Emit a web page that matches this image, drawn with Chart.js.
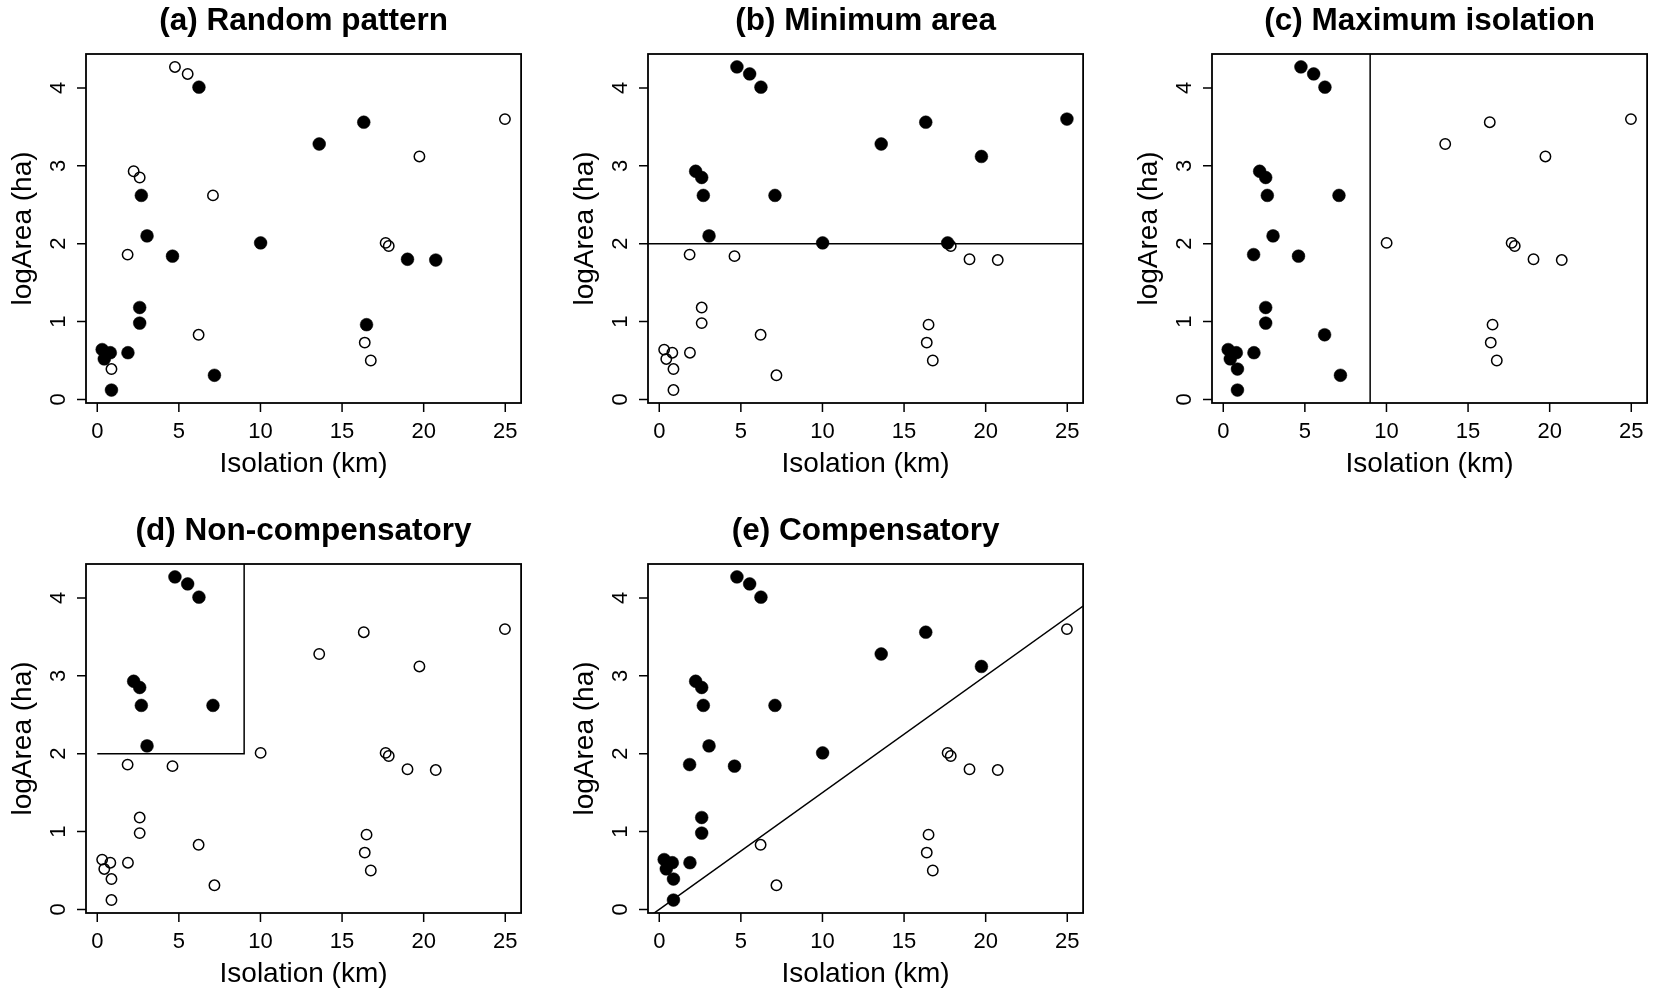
<!DOCTYPE html>
<html>
<head>
<meta charset="utf-8">
<script src="https://cdn.jsdelivr.net/npm/chart.js@4/dist/chart.umd.min.js"></script>
<style>
  html, body { margin: 0; padding: 0; background: #fff; overflow: hidden; }
  #wrap { position: relative; width: 1654px; height: 994px; }
  canvas { position: absolute; }
</style>
</head>
<body>
<div id="wrap">
  <canvas id="pa" width="528" height="488" style="left:0px;top:0px"></canvas>
  <canvas id="pb" width="528" height="488" style="left:562px;top:0px"></canvas>
  <canvas id="pc" width="528" height="488" style="left:1126px;top:0px"></canvas>
  <canvas id="pd" width="528" height="488" style="left:0px;top:510px"></canvas>
  <canvas id="pe" width="528" height="488" style="left:562px;top:510px"></canvas>
</div>
<script>
// patches: isolation (km) and log10 area (ha)
const isolation = [4.76, 5.54, 6.23, 16.33, 24.98, 13.60, 19.74, 2.23, 2.60, 2.70, 7.09, 3.05, 10.01, 17.67, 17.86, 1.86,
                   4.61, 19.01, 20.74, 2.60, 2.60, 6.21, 16.50, 16.39, 16.76, 0.30, 0.43, 0.80, 1.88, 0.87, 0.87, 7.18];
const logArea   = [4.27, 4.18, 4.01, 3.56, 3.60, 3.28, 3.12, 2.93, 2.85, 2.62, 2.62, 2.10, 2.01, 2.01, 1.97, 1.86,
                   1.84, 1.80, 1.79, 1.18, 0.98, 0.83, 0.96, 0.73, 0.50, 0.64, 0.52, 0.60, 0.60, 0.39, 0.12, 0.31];

// 1 = patch selected (filled symbol), 0 = not selected (open symbol)
const selRandom  = [0,0,1,1,0,1,0,0,0,1,0,1,1,0,0,0, 1,1,1,1,1,0,1,0,0,1,1,1,1,0,1,1];
const selMinArea = [1,1,1,1,1,1,1,1,1,1,1,1,1,1,0,0, 0,0,0,0,0,0,0,0,0,0,0,0,0,0,0,0];
const selMaxIso  = [1,1,1,0,0,0,0,1,1,1,1,1,0,0,0,1, 1,0,0,1,1,1,0,0,0,1,1,1,1,1,1,1];
const selNonComp = [1,1,1,0,0,0,0,1,1,1,1,1,0,0,0,0, 0,0,0,0,0,0,0,0,0,0,0,0,0,0,0,0];
const selComp    = [1,1,1,1,0,1,1,1,1,1,1,1,1,0,0,1, 1,0,0,1,1,0,0,0,0,1,1,1,1,1,1,0];

// threshold rules
const minArea = 2;          // logArea cut-off
const maxIsolation = 9;     // km cut-off
const compIntercept = 0;    // compensatory line: logArea = a + b * isolation
const compSlope = 0.15;

const xTicks = [0, 5, 10, 15, 20, 25];
const yTicks = [0, 1, 2, 3, 4];
const X_MIN = -0.69, X_MAX = 25.97;
const Y_MIN = -0.046, Y_MAX = 4.436;

const FONT = "'Liberation Sans', Arial, sans-serif";

const frame = {
  id: "frame",
  afterDraw(chart, args, opts) {
    const ctx = chart.ctx;
    const a = chart.chartArea;
    const xs = chart.scales.x, ys = chart.scales.y;
    ctx.save();
    ctx.strokeStyle = "#000";
    ctx.fillStyle = "#000";

    // box
    ctx.lineWidth = 1.8;
    ctx.strokeRect(a.left, a.top, a.right - a.left, a.bottom - a.top);

    // tick marks
    ctx.lineWidth = 1.5;
    ctx.beginPath();
    xTicks.forEach(v => {
      const px = xs.getPixelForValue(v);
      ctx.moveTo(px, a.bottom);
      ctx.lineTo(px, a.bottom + 9);
    });
    yTicks.forEach(v => {
      const py = ys.getPixelForValue(v);
      ctx.moveTo(a.left, py);
      ctx.lineTo(a.left - 9, py);
    });
    ctx.stroke();

    // tick labels
    ctx.font = "22px " + FONT;
    ctx.textAlign = "center";
    ctx.textBaseline = "middle";
    xTicks.forEach(v => ctx.fillText(String(v), xs.getPixelForValue(v), a.bottom + 29));
    yTicks.forEach(v => {
      ctx.save();
      ctx.translate(a.left - 27, ys.getPixelForValue(v));
      ctx.rotate(-Math.PI / 2);
      ctx.fillText(String(v), 0, 0);
      ctx.restore();
    });

    // axis titles
    const cx = (a.left + a.right) / 2;
    ctx.font = "28px " + FONT;
    ctx.fillText("Isolation (km)", cx, a.bottom + 61);
    ctx.save();
    ctx.translate(a.left - 63, (a.top + a.bottom) / 2);
    ctx.rotate(-Math.PI / 2);
    ctx.fillText("logArea (ha)", 0, 0);
    ctx.restore();

    // panel title
    ctx.font = "bold 31.5px " + FONT;
    ctx.fillText(opts.text, cx, a.top - 33);
    ctx.restore();
  }
};

function makePanel(id, title, sel, guide) {
  const filled = [], open = [];
  isolation.forEach((x, i) => {
    (sel[i] ? filled : open).push({ x: x, y: logArea[i] });
  });
  const datasets = [
    {
      type: "scatter",
      data: open,
      pointStyle: "circle",
      pointRadius: 5.2,
      pointBorderWidth: 1.5,
      pointBorderColor: "#000",
      pointBackgroundColor: "rgba(0,0,0,0)"
    },
    {
      type: "scatter",
      data: filled,
      pointStyle: "circle",
      pointRadius: 6.4,
      pointBorderWidth: 0.5,
      pointBorderColor: "#000",
      pointBackgroundColor: "#000"
    }
  ];
  if (guide) {
    datasets.push({
      type: "line",
      data: guide,
      borderColor: "#000",
      borderWidth: 1.5,
      pointRadius: 0,
      fill: false,
      tension: 0
    });
  }
  new Chart(document.getElementById(id), {
    type: "scatter",
    data: { datasets: datasets },
    options: {
      responsive: false,
      animation: false,
      events: [],
      layout: { padding: { left: 86, top: 54, right: 3, bottom: 85 } },
      scales: {
        x: { type: "linear", min: X_MIN, max: X_MAX, display: false },
        y: { type: "linear", min: Y_MIN, max: Y_MAX, display: false }
      },
      plugins: {
        legend: { display: false },
        title: { display: false },
        tooltip: { enabled: false },
        frame: { text: title }
      }
    },
    plugins: [frame]
  });
}

makePanel("pa", "(a) Random pattern", selRandom, null);
makePanel("pb", "(b) Minimum area", selMinArea,
  [{ x: X_MIN, y: minArea }, { x: X_MAX, y: minArea }]);
makePanel("pc", "(c) Maximum isolation", selMaxIso,
  [{ x: maxIsolation, y: Y_MIN }, { x: maxIsolation, y: Y_MAX }]);
makePanel("pd", "(d) Non-compensatory", selNonComp,
  [{ x: 0, y: minArea }, { x: maxIsolation, y: minArea }, { x: maxIsolation, y: Y_MAX }]);
makePanel("pe", "(e) Compensatory", selComp,
  [{ x: X_MIN, y: compIntercept + compSlope * X_MIN }, { x: X_MAX, y: compIntercept + compSlope * X_MAX }]);
</script>
</body>
</html>
